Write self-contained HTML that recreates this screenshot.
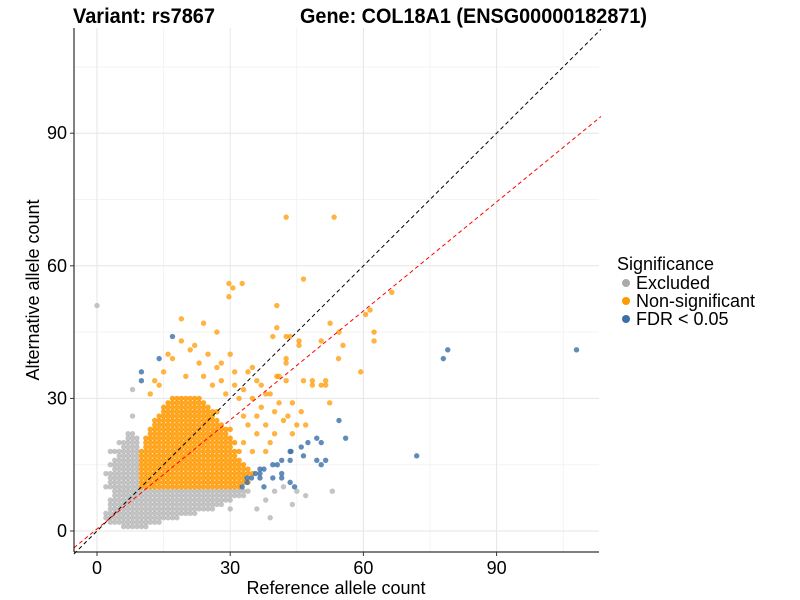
<!DOCTYPE html>
<html><head><meta charset="utf-8"><style>
body{margin:0;background:#fff;font-family:"Liberation Sans",Arial,sans-serif}
svg{display:block}
</style></head><body>
<svg id="chart" width="800" height="600" xmlns="http://www.w3.org/2000/svg">
<g id="grid"></g>
<g id="pts"></g>
<g id="lines"></g>
<line x1="74" y1="28" x2="74" y2="552" stroke="#000" stroke-width="1"/>
<line x1="74" y1="552" x2="599" y2="552" stroke="#000" stroke-width="1"/>
<g id="ticks" font-size="18" fill="#000"></g>
<text x="73" y="23" font-size="21" font-weight="bold" textLength="142" lengthAdjust="spacingAndGlyphs">Variant: rs7867</text>
<text x="300" y="23" font-size="21" font-weight="bold" textLength="347" lengthAdjust="spacingAndGlyphs">Gene: COL18A1 (ENSG00000182871)</text>
<text x="336" y="594" font-size="18" text-anchor="middle">Reference allele count</text>
<text transform="translate(39,290) rotate(-90)" font-size="18" text-anchor="middle">Alternative allele count</text>
<g>
<text x="617" y="270" font-size="18">Significance</text>
<circle cx="626" cy="283" r="4" fill="#aaaaaa"/>
<text x="636" y="289" font-size="18">Excluded</text>
<circle cx="626" cy="301" r="4" fill="#ff9900"/>
<text x="636" y="307" font-size="18">Non-significant</text>
<circle cx="626" cy="319" r="4" fill="#3a6fa8"/>
<text x="636" y="325" font-size="18">FDR &lt; 0.05</text>
</g>
</svg>
<script>
const xTicks=[0,30,60,90];
const yTicks=[0,30,60,90];
const minorTicks=[15,45,75,105];
// dense rows: [y, xStart, xEnd] of integer counts
const orangeRows=[[10,10,32],[11,10,34],[12,10,33],[13,10,35],[14,10,34],[15,10,33],[16,10,32],[17,10,31],[18,10,32],[19,11,30],[20,11,31],[21,11,30],[22,12,29],[23,12,30],[24,13,28],[25,13,27],[26,14,26],[27,15,27],[28,15,25],[29,16,24],[30,17,23]];
const grayRows=[[1,6,11],[2,3,14],[3,2,18],[4,2,22],[5,3,26],[6,3,28],[7,3,30],[8,4,32],[9,4,34],[10,2,9],[11,3,9],[12,3,9],[13,2,9],[14,4,9],[15,3,9],[16,4,9],[17,5,9],[18,3,9],[19,6,9],[20,5,9],[21,7,9],[22,7,8]];
const grayX=[0,8,8,53,45,42,40,38,44,36,33,47,30,39];
const grayY=[51,32,26,9,9,10,9,7,6,5,8,8,5,3];
const orangeX=[42.6,53.4,46.5,29.7,32.7,30.6,29.7,40.5,66.4,61.5,60.5,52.5,54.5,62.4,62.4,55.4,40.5,42.6,43.5,45.5,45.5,39.6,54.4,59.4,52.4,50.5,42.6,42.6,42.6,40.5,48.5,51.5,48.5,50.5,51.5,46.5,35,37,40,42,38,44,36,39,33,36,31,28,25,22,19,27,24,21,35,38,41,44,46,47,38,35,33,40,17,15,20,24,14,12,13,26,29,31,33,34,36,19,16,23,28,32,37,43,45,34,39,41,30,27];
const orangeY=[71,71,57,56,56,55,53,51,54,50,49,47,45,45,43,42,46,44,44,43,42,44,39,36,29,43,39,38,34,35,34,34,33,33,33,34,30,28,27,25,24,22,22,20,32,34,36,38,40,42,43,45,47,41,37,31,29,29,27,24,18,18,20,22,39,36,35,35,33,31,34,33,31,33,26,24,26,48,40,38,34,30,33,26,24,36,31,35,40,37];
const blueX=[79,78,108,72,54.5,56,47.5,49.5,50.5,46.5,49.5,51.5,50.5,43.5,43.5,41.6,39.6,40.6,36.7,37.6,35.7,36.7,33.8,34.8,36.7,33.8,32.7,41.6,39.6,41.6,43.5,44.5,37.6,17,14,10,10,43.7,46];
const blueY=[41,39,41,17,25,21,20,21,20,17,16,16,15,18,16,16,15,15,14,14,13,13,12,12,12,11,10,13,12,12,11,10,10,44,39,36,34,18,19];
const X0=97,XS=4.44,Y0=531,YS=4.42;
const sx=v=>X0+XS*v, sy=v=>Y0-YS*v;
const NS='http://www.w3.org/2000/svg';
function mk(t,a,p){const e=document.createElementNS(NS,t);for(const k in a)e.setAttribute(k,a[k]);p.appendChild(e);return e;}
const grid=document.getElementById('grid');
minorTicks.forEach(v=>{
 const a=mk('line',{x1:sx(v),x2:sx(v),y1:28,y2:552,stroke:'#f3f3f3'},grid);
 
 
 const b=mk('line',{x1:74,x2:599,y1:sy(v),y2:sy(v),stroke:'#f3f3f3'},grid);
 
 
});
const ticks=document.getElementById('ticks');
xTicks.forEach(v=>{
 const a=mk('line',{x1:sx(v),x2:sx(v),y1:28,y2:552,stroke:'#e6e6e6'},grid);
 
 
 const m=mk('line',{x1:sx(v),x2:sx(v),y1:552,y2:556,stroke:'#333'},ticks);
 
 
 const t=mk('text',{x:sx(v),y:574,'text-anchor':'middle'},ticks);t.textContent=v;
 
 
});
yTicks.forEach(v=>{
 const a=mk('line',{x1:74,x2:599,y1:sy(v),y2:sy(v),stroke:'#e6e6e6'},grid);
 
 
 const m=mk('line',{x1:70,x2:74,y1:sy(v),y2:sy(v),stroke:'#333'},ticks);
 
 
 const t=mk('text',{x:67,y:sy(v)+6,'text-anchor':'end'},ticks);t.textContent=v;
 
 
});
const pts=document.getElementById('pts');
function dot(x,y,fill,op,name){
 const c=mk('circle',{cx:sx(x),cy:sy(y),r:2.7,fill:fill,'fill-opacity':op},pts);
 
 
}
grayRows.forEach(r=>{for(let x=r[1];x<=r[2];x++)dot(x,r[0],'#b5b5b5',0.8,'point-excluded');});
grayX.forEach((x,i)=>dot(x,grayY[i],'#b5b5b5',0.8,'point-excluded'));
orangeRows.forEach(r=>{for(let x=r[1];x<=r[2];x++)dot(x,r[0],'#ff9900',0.85,'point-nonsignificant');});
orangeX.forEach((x,i)=>dot(x,orangeY[i],'#ff9900',0.75,'point-nonsignificant'));
blueX.forEach((x,i)=>dot(x,blueY[i],'#3a6fa8',0.8,'point-fdr'));
const lines=document.getElementById('lines');
const l1=mk('line',{x1:sx(-5.2),y1:sy(-5.2),x2:sx(113.5),y2:sy(113.5),stroke:'#000','stroke-dasharray':'4,3'},lines);


const l2=mk('line',{x1:sx(-5.2),y1:sy(0.47-5.2*0.822),x2:sx(113.5),y2:sy(0.47+113.5*0.822),stroke:'#ff0000','stroke-dasharray':'4,3'},lines);


</script>
</body></html>
